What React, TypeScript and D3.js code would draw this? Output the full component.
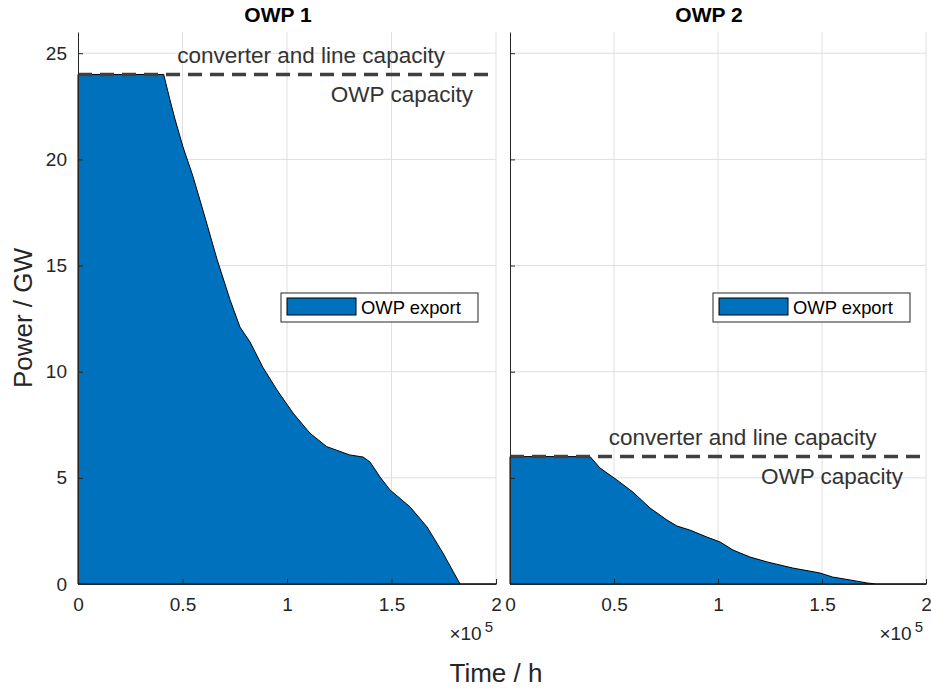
import * as d3 from 'd3';
import { useEffect, useRef } from 'react';

// time axis is in units of 1e5 h
const owp1Time = [0, 0.41, 0.44, 0.464, 0.502, 0.55, 0.598, 0.665, 0.727, 0.775, 0.823, 0.885, 0.952, 1.029, 1.11, 1.19, 1.30, 1.364, 1.397, 1.445, 1.493, 1.589, 1.67, 1.746, 1.828, 2];
const owp1Power = [24, 24, 22.8, 21.9, 20.6, 19.2, 17.6, 15.3, 13.4, 12.1, 11.4, 10.2, 9.14, 8.05, 7.1, 6.47, 6.08, 5.98, 5.75, 5.04, 4.43, 3.63, 2.69, 1.46, 0, 0];

const owp2Time = [0, 0.385, 0.433, 0.514, 0.591, 0.673, 0.755, 0.803, 0.865, 0.947, 1.01, 1.072, 1.154, 1.236, 1.36, 1.49, 1.55, 1.635, 1.716, 1.76, 2];
const owp2Power = [6, 6, 5.46, 4.9, 4.33, 3.58, 3.01, 2.73, 2.54, 2.21, 1.98, 1.6, 1.27, 1.04, 0.75, 0.52, 0.33, 0.19, 0.05, 0, 0];

const panelTitles = ['OWP 1', 'OWP 2'];
const capacities = [24, 6];
const xTicks = [0, 0.5, 1, 1.5, 2];
const yTicks = [0, 5, 10, 15, 20, 25];

const FONT = '"Liberation Sans", Arial, Helvetica, sans-serif';

export default function App() {
  const svgRef = useRef(null);

  useEffect(() => {
    const svg = d3.select(svgRef.current);
    svg.selectAll('*').remove();

    const width = 931;
    const height = 689;
    const top = 32;
    const bottom = 584;

    svg.attr('width', width).attr('height', height).attr('viewBox', [0, 0, width, height])
      .style('font-family', FONT);

    svg.append('rect').attr('width', width).attr('height', height).attr('fill', 'white');

    const y = d3.scaleLinear([0, 26], [bottom, top]);

    const panels = [
      { title: panelTitles[0], time: owp1Time, power: owp1Power, cap: capacities[0], left: 78, right: 496, labels: true },
      { title: panelTitles[1], time: owp2Time, power: owp2Power, cap: capacities[1], left: 510, right: 926, labels: false },
    ];

    panels.forEach(p => {
      const x = d3.scaleLinear([0, 2], [p.left, p.right]);
      const g = svg.append('g');
      const data = p.time.map((t, i) => ({ t, v: p.power[i] }));

      // grid
      g.append('g').selectAll('line').data(xTicks.slice(1)).join('line')
        .attr('x1', d => x(d)).attr('x2', d => x(d))
        .attr('y1', top).attr('y2', bottom)
        .attr('stroke', '#dfdfdf').attr('stroke-width', 1);
      g.append('g').selectAll('line').data(yTicks.slice(1)).join('line')
        .attr('x1', p.left).attr('x2', p.right)
        .attr('y1', d => y(d)).attr('y2', d => y(d))
        .attr('stroke', '#dfdfdf').attr('stroke-width', 1);

      // area
      const area = d3.area()
        .x(d => x(d.t))
        .y0(y(0))
        .y1(d => y(d.v));
      g.append('path')
        .attr('d', area(data))
        .attr('fill', '#0072BD')
        .attr('stroke', 'black')
        .attr('stroke-width', 1)
        .attr('stroke-linejoin', 'round');

      // capacity line
      g.append('line')
        .attr('x1', x(0)).attr('x2', x(2))
        .attr('y1', y(p.cap)).attr('y2', y(p.cap))
        .attr('stroke', '#404040')
        .attr('stroke-width', 3.5)
        .attr('stroke-dasharray', '14,8');

      g.append('text')
        .attr('x', x(0.475)).attr('y', y(p.cap) - 11.5)
        .attr('font-size', 22.5).attr('fill', '#333333')
        .text('converter and line capacity');
      g.append('text')
        .attr('x', x(1.89)).attr('y', y(p.cap) + 27.5)
        .attr('text-anchor', 'end')
        .attr('font-size', 22.5).attr('fill', '#333333')
        .text('OWP capacity');

      // axes
      g.append('g')
        .attr('transform', `translate(0,${bottom})`)
        .call(d3.axisBottom(x).tickValues(xTicks).tickSize(-5).tickSizeOuter(0).tickPadding(14).tickFormat(d => String(d)))
        .call(a => a.select('.domain').attr('stroke', '#262626'))
        .call(a => a.selectAll('.tick line').attr('stroke', '#262626'))
        .call(a => a.selectAll('text').attr('fill', '#262626').attr('font-size', 19).attr('font-family', FONT));

      g.append('g')
        .attr('transform', `translate(${p.left},0)`)
        .call(d3.axisLeft(y).tickValues(yTicks).tickSize(-5).tickSizeOuter(0).tickPadding(11)
          .tickFormat(d => p.labels ? String(d) : ''))
        .call(a => a.select('.domain').attr('stroke', '#262626'))
        .call(a => a.selectAll('.tick line').attr('stroke', '#262626'))
        .call(a => a.selectAll('text').attr('fill', '#262626').attr('font-size', 19).attr('font-family', FONT));

      // exponent
      const ex = g.append('text')
        .attr('x', p.right - 3).attr('y', 640)
        .attr('text-anchor', 'end')
        .attr('fill', '#262626')
        .attr('font-size', 19);
      ex.append('tspan').text('×10');
      ex.append('tspan').attr('dx', 3).attr('dy', -8).attr('font-size', 15).text('5');

      // title
      g.append('text')
        .attr('x', (p.left + p.right) / 2 - 9).attr('y', 22)
        .attr('text-anchor', 'middle')
        .attr('font-size', 21).attr('font-weight', 'bold').attr('fill', 'black')
        .text(p.title);

      // legend
      const lg = g.append('g').attr('transform', `translate(${p.left + 203},293)`);
      lg.append('rect').attr('width', 197).attr('height', 29)
        .attr('fill', 'white').attr('stroke', '#262626').attr('stroke-width', 1);
      lg.append('rect').attr('x', 6).attr('y', 5).attr('width', 69).attr('height', 17)
        .attr('fill', '#0072BD').attr('stroke', 'black').attr('stroke-width', 1);
      lg.append('text').attr('x', 80).attr('y', 21)
        .attr('font-size', 18.4).attr('fill', 'black')
        .text('OWP export');
    });

    // axis labels
    svg.append('text')
      .attr('transform', `translate(32,318) rotate(-90)`)
      .attr('text-anchor', 'middle')
      .attr('font-size', 26).attr('fill', '#262626')
      .text('Power / GW');
    svg.append('text')
      .attr('x', 496).attr('y', 682)
      .attr('text-anchor', 'middle')
      .attr('font-size', 26).attr('fill', '#262626')
      .text('Time / h');
  }, []);

  return <svg ref={svgRef} style={{ position: 'absolute', left: 0, top: 0 }} />;
}
